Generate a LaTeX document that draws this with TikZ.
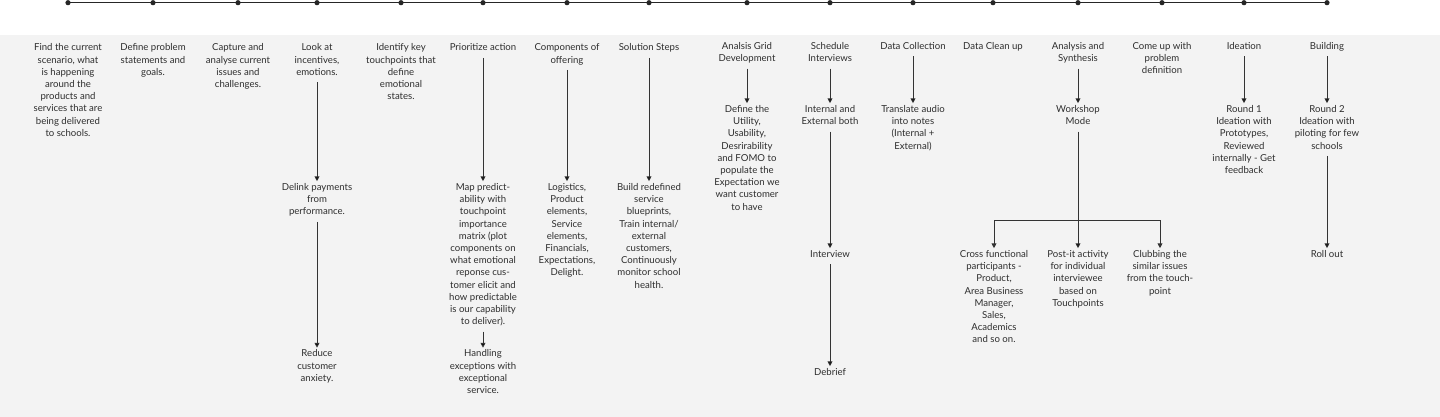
\documentclass[tikz,border=0pt]{standalone}
\usepackage{fontspec}
\setmainfont{Lato}
\usetikzlibrary{arrows.meta, positioning}

\definecolor{bandgray}{HTML}{F3F3F3}
\definecolor{inkgray}{HTML}{2E2E2E}
\definecolor{linegray}{HTML}{333333}

\begin{document}
\begin{tikzpicture}[x=1pt, y=-1pt,
    note/.style={font=\fontsize{9.6}{12.2}\selectfont, text=inkgray, align=center,
                 anchor=north, inner sep=2pt, text depth=2.2pt},
    flow/.style={draw=linegray, line width=0.9pt, shorten <=2.5pt,
                 -{Triangle[width=4.8pt,length=4.8pt]}}]
  \useasboundingbox (0,0) rectangle (1440,417);
  \fill[bandgray] (0,35) rectangle (1440,417);

  % timeline
  \foreach \x [count=\i] in {68,153,238,317,401,483,567,649,747,830,913,993,1078,1162,1244,1327}
    \coordinate (d\i) at (\x,2.7);
  \draw[black!85, line width=1.2pt] (d1) -- (d16);
  \foreach \i in {1,...,16}
    \fill[black!85] (d\i) circle (2.6pt);

  % first row
  \node[note] (find) at (68,41.7) {Find the current\\scenario, what\\is happening\\around the\\products and\\services that are\\being delivered\\to schools.};
  \node[note] (define) at (153,41.7) {Define problem\\statements and\\goals.};
  \node[note] (capture) at (238,41.7) {Capture and\\analyse current\\issues and\\challenges.};
  \node[note] (look) at (317,41.7) {Look at\\incentives,\\emotions.};
  \node[note] (identify) at (401,41.7) {Identify key\\touchpoints that\\define\\emotional\\states.};
  \node[note] (prioritize) at (483,41.7) {Prioritize action};
  \node[note] (components) at (567,41.7) {Components of\\offering};
  \node[note] (solution) at (649,41.7) {Solution Steps};
  \node[note] (grid) at (747,40.2) {Analsis Grid\\Development};
  \node[note] (schedule) at (830,40.2) {Schedule\\Interviews};
  \node[note] (collection) at (913,40.2) {Data Collection};
  \node[note] (cleanup) at (993,40.2) {Data Clean up};
  \node[note] (analysis) at (1078,40.2) {Analysis and\\Synthesis};
  \node[note] (comeup) at (1162,40.2) {Come up with\\problem\\definition};
  \node[note] (ideation) at (1244,40.2) {Ideation};
  \node[note] (building) at (1327,40.2) {Building};

  % next steps
  \node[note] (delink) at (317,181.2) {Delink payments\\from\\performance.};
  \node[note] (reduce) at (317,347.7) {Reduce\\customer\\anxiety.};
  \node[note] (mapping) at (483,181.2) {Map predict-\\ability with\\touchpoint\\importance\\matrix (plot\\components on\\what emotional\\reponse cus-\\tomer elicit and\\how predictable\\is our capability\\to deliver).};
  \node[note] (handling) at (483,347.7) {Handling\\exceptions with\\exceptional\\service.};
  \node[note] (logistics) at (567,181.2) {Logistics,\\Product\\elements,\\Service\\elements,\\Financials,\\Expectations,\\Delight.};
  \node[note] (build) at (649,181.2) {Build redefined\\service\\blueprints,\\Train internal/\\external\\customers,\\Continuously\\monitor school\\health.};
  \node[note] (utility) at (747,103.2) {Define the\\Utility,\\Usability,\\Desrirability\\and FOMO to\\populate the\\Expectation we\\want customer\\to have};
  \node[note] (internal) at (830,103.2) {Internal and\\External both};
  \node[note] (interview) at (830,248.2) {Interview};
  \node[note] (debrief) at (830,366.2) {Debrief};
  \node[note] (translate) at (913,103.2) {Translate audio\\into notes\\(Internal +\\External)};
  \node[note] (workshop) at (1078,103.2) {Workshop\\Mode};
  \node[note] (cross) at (994,248.2) {Cross functional\\participants -\\Product,\\Area Business\\Manager,\\Sales,\\Academics\\and so on.};
  \node[note] (postit) at (1078,248.2) {Post-it activity\\for individual\\interviewee\\based on\\Touchpoints};
  \node[note] (clubbing) at (1160,248.2) {Clubbing the\\similar issues\\from the touch-\\point};
  \node[note] (round1) at (1244,103.2) {Round 1\\Ideation with\\Prototypes,\\Reviewed\\internally - Get\\feedback};
  \node[note] (round2) at (1327,103.2) {Round 2\\Ideation with\\piloting for few\\schools};
  \node[note] (rollout) at (1327,248.2) {Roll out};
  \coordinate (fork) at (1078,220.7);

  \path[flow]
    (look) edge (delink)
    (delink) edge (reduce)
    (prioritize) edge (mapping)
    (mapping) edge (handling)
    (components) edge (logistics)
    (solution) edge (build)
    (grid) edge (utility)
    (schedule) edge (internal)
    (internal) edge (interview)
    (interview) edge (debrief)
    (collection) edge (translate)
    (analysis) edge (workshop)
    (workshop) edge (postit)
    (ideation) edge (round1)
    (building) edge (round2)
    (round2) edge (rollout);
  \draw[flow, shorten <=0pt] (fork) -| (cross);
  \draw[flow, shorten <=0pt] (fork) -| (clubbing);
\end{tikzpicture}
\end{document}
